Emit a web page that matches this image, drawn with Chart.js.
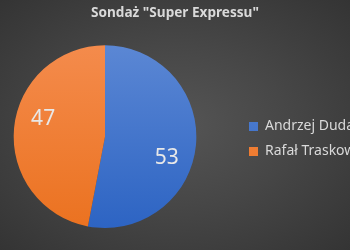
<!DOCTYPE html>
<html>
<head>
<meta charset="utf-8">
<script src="https://cdn.jsdelivr.net/npm/chart.js@4/dist/chart.umd.min.js"></script>
<style>
	html, body { margin: 0; padding: 0; overflow: hidden; }
	body {
		width: 350px; height: 250px;
		background: radial-gradient(ellipse at 50% 50%, #555555 0%, #474747 45%, #343434 100%);
	}
	/* canvas is wider than the page; the legend text runs off the right edge like the original */
	#wrap { position: absolute; left: -28px; top: 0; width: 406px; height: 250px; }
</style>
</head>
<body>
<div id="wrap"><canvas id="myPieChart"></canvas></div>
<script>
const chartTitle = 'Sondaż "Super Expressu"';
const candidates = ['Andrzej Duda', 'Rafał Traskowski'];
const votes = [53, 47];
const sliceTop = ['#5b87d4', '#f48b4c'];
const sliceBottom = ['#2d64c3', '#eb7220'];
const sliceFlat = ['#4472c4', '#ed7d31'];

//vertical gradient for every slice, top to bottom of the pie
function sliceColor(context) {
	const chart = context.chart;
	const area = chart.chartArea;
	if (!area) return sliceFlat[context.dataIndex];
	const grad = chart.ctx.createLinearGradient(0, area.top, 0, area.bottom);
	grad.addColorStop(0, sliceTop[context.dataIndex]);
	grad.addColorStop(1, sliceBottom[context.dataIndex]);
	return grad;
}

//value labels inside the slices
const sliceValues = {
	id: 'sliceValues',
	afterDraw(chart) {
		const ctx = chart.ctx;
		const meta = chart.getDatasetMeta(0);
		ctx.save();
		ctx.font = '21px "Noto Sans"';
		ctx.fillStyle = '#e8e8e8';
		ctx.textAlign = 'center';
		ctx.textBaseline = 'middle';
		meta.data.forEach((arc, i) => {
			const p = arc.getProps(['x', 'y', 'startAngle', 'endAngle', 'outerRadius'], true);
			const a = (p.startAngle + p.endAngle) / 2 + 0.21;
			const r = p.outerRadius * 0.71;
			ctx.fillText(String(votes[i]), p.x + Math.cos(a) * r, p.y + Math.sin(a) * r + 2);
		});
		ctx.restore();
	}
};

const ctx = document.getElementById('myPieChart').getContext('2d');
new Chart(ctx, {
	type: 'pie',
	data: {
		labels: candidates,
		datasets: [{
			data: votes,
			backgroundColor: sliceColor,
			borderWidth: 0,
			hoverOffset: 0
		}]
	},
	plugins: [sliceValues],
	options: {
		responsive: true,
		maintainAspectRatio: false,
		animation: false,
		layout: {
			padding: { left: 0, right: 0, top: 0, bottom: 22 }
		},
		plugins: {
			tooltip: { enabled: false },
			title: {
				display: true,
				text: chartTitle,
				color: '#d9d9d9',
				font: { family: '"Noto Sans"', size: 13.6, weight: 'bold' },
				padding: { top: 5, bottom: 24 }
			},
			legend: {
				position: 'right',
				maxWidth: 140,
				//empty legend title only pushes the entries down to the middle of the pie
				title: {
					display: true,
					text: '',
					font: { size: 10 },
					padding: { top: 38, bottom: 0 }
				},
				labels: {
					color: '#d9d9d9',
					font: { family: '"Noto Sans"', size: 14 },
					boxWidth: 9,
					boxHeight: 9,
					padding: 11
				}
			}
		}
	}
});
</script>
</body>
</html>
